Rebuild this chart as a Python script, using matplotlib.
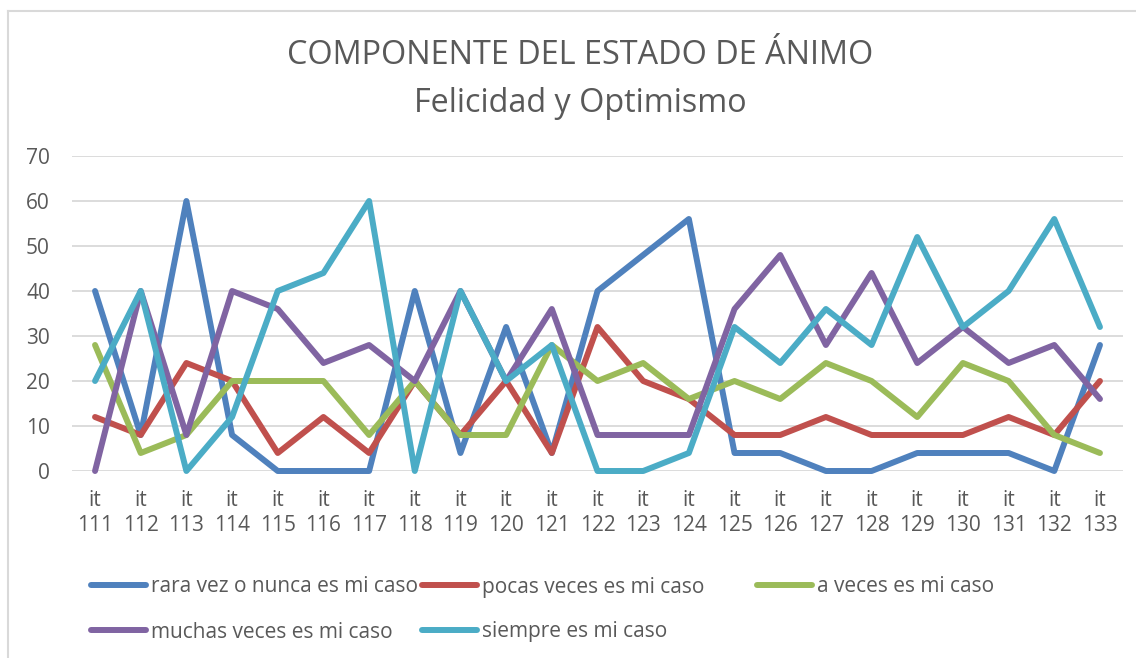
import numpy as np
import matplotlib
matplotlib.use("Agg")
from matplotlib import pyplot as plt
from matplotlib.lines import Line2D

# items of the questionnaire
items = ["it\n%d" % n for n in range(111, 134)]

# percentage of answers per item
rara_vez = [40, 8, 60, 8, 0, 0, 0, 40, 4, 32, 4, 40, 48, 56, 4, 4, 0, 0, 4, 4, 4, 0, 28]
pocas_veces = [12, 8, 24, 20, 4, 12, 4, 20, 8, 20, 4, 32, 20, 16, 8, 8, 12, 8, 8, 8, 12, 8, 20]
a_veces = [28, 4, 8, 20, 20, 20, 8, 20, 8, 8, 28, 20, 24, 16, 20, 16, 24, 20, 12, 24, 20, 8, 4]
muchas_veces = [0, 40, 8, 40, 36, 24, 28, 20, 40, 20, 36, 8, 8, 8, 36, 48, 28, 44, 24, 32, 24, 28, 16]
siempre = [20, 40, 0, 12, 40, 44, 60, 0, 40, 20, 28, 0, 0, 4, 32, 24, 36, 28, 52, 32, 40, 56, 32]

labels = ["rara vez o nunca es mi caso", "pocas veces es mi caso", "a veces es mi caso",
          "muchas veces es mi caso", "siempre es mi caso"]
colors = ["#4F81BD", "#C0504D", "#9BBB59", "#8064A2", "#4BACC6"]
y_ticks = [0, 10, 20, 30, 40, 50, 60, 70]

plt.rcParams['font.family'] = ['Open Sans', 'DejaVu Sans']
TXT = "#595959"
W, H = 1136, 658

fig = plt.figure(figsize=(W / 100, H / 100), dpi=100)
ax = fig.add_axes([72.2 / W, 187 / H, 1050.6 / W, 315 / H])

x = np.arange(len(items))
series = [rara_vez, pocas_veces, a_veces, muchas_veces, siempre]
handles = []
for vals, col, lab in zip(series, colors, labels):
    ln, = ax.plot(x, vals, color=col, lw=4.3, label=lab, clip_on=False,
                  solid_capstyle='round', solid_joinstyle='round')
    handles.append(ln)

ax.set_xlim(-0.5, len(items) - 0.5)
ax.set_ylim(0, 70)
ax.set_yticks(y_ticks)
ax.set_xticks(x)
ax.set_xticklabels(items, linespacing=1.22)
ax.grid(axis='y', color='#d9d9d9', lw=1.3)
ax.set_axisbelow(True)
for s in ax.spines.values():
    s.set_visible(False)
ax.tick_params(axis='both', length=0, colors=TXT, labelsize=15)
ax.tick_params(axis='y', pad=16)
ax.tick_params(axis='x', pad=14)

fig.text(580 / W, 1 - 55 / H, "COMPONENTE DEL ESTADO DE ÁNIMO", ha='center', va='center',
         fontsize=23.3, color=TXT)
fig.text(580 / W, 1 - 103 / H, "Felicidad y Optimismo", ha='center', va='center',
         fontsize=23.3, color=TXT)

# legend entries placed like the original (3 columns, 2 rows)
spots = [(91, 587), (422, 587), (757, 587), (91, 632), (422, 632)]
for h, (px, py) in zip(handles, spots):
    lg = fig.legend(handles=[h], loc='center left', bbox_to_anchor=(px / W, 1 - py / H),
                    frameon=False, fontsize=15, handlelength=2.65, handletextpad=0.25,
                    borderpad=0, borderaxespad=0)
    for t in lg.get_texts():
        t.set_color(TXT)

# chart border
fig.add_artist(Line2D([8 / W, 8 / W], [0, 1 - 11 / H], transform=fig.transFigure,
                      color='#d9d9d9', lw=1.5))
fig.add_artist(Line2D([8 / W, 1], [1 - 11 / H, 1 - 11 / H], transform=fig.transFigure,
                      color='#d9d9d9', lw=1.5))

fig.savefig("out.png", dpi=100, facecolor='white')
